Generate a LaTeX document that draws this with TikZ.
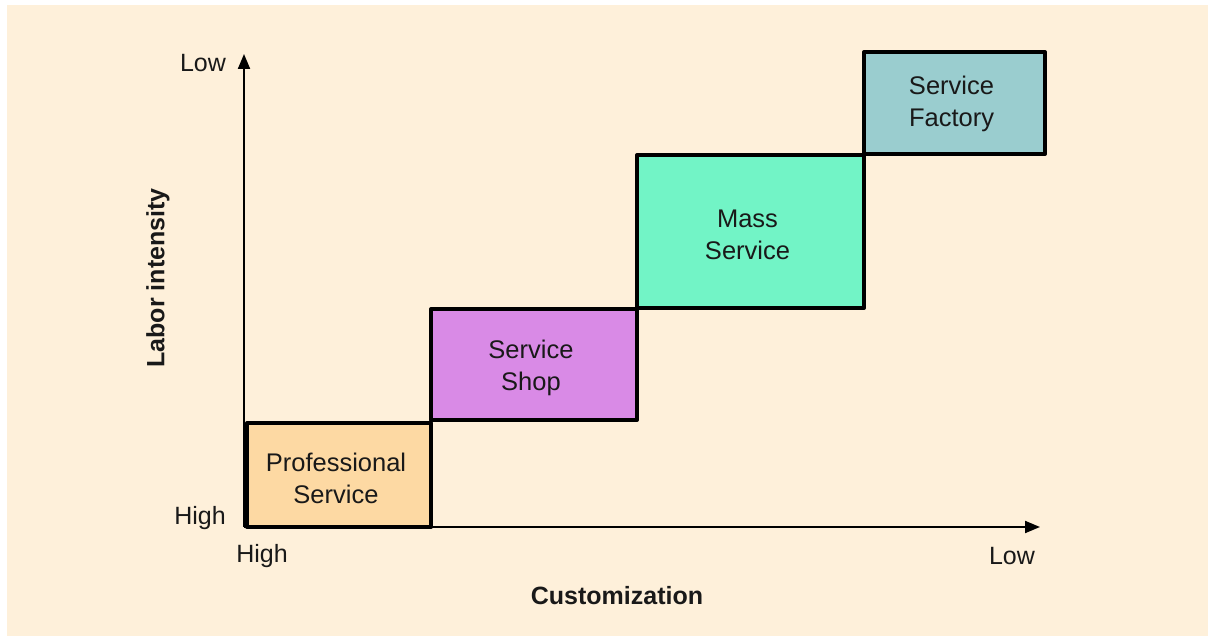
\documentclass[tikz,border=0pt]{standalone}
\usepackage{fontspec}
\setmainfont{Liberation Sans}
\usetikzlibrary{arrows.meta}
\definecolor{panel}{HTML}{FEF0DA}
\definecolor{profc}{HTML}{FDD9A3}
\definecolor{shopc}{HTML}{D98AE6}
\definecolor{massc}{HTML}{72F4C6}
\definecolor{factc}{HTML}{9ACDCF}
\tikzset{
  stage/.style={draw=black, line width=4pt, line join=round, anchor=north west,
    inner sep=0pt},
  stagetext/.style={align=center, font=\fontsize{25.5}{32}\selectfont, text=black!90,
    inner sep=0pt, xshift=-3pt, yshift=-3pt},
  axis/.style={line width=2pt, -{Triangle[length=15pt,width=12pt]}},
  tick/.style={font=\fontsize{25}{30}\selectfont, text=black!90, inner sep=0pt},
  title/.style={font=\fontsize{25}{30}\selectfont\bfseries, text=black!90, inner sep=0pt}
}
\begin{document}
\begin{tikzpicture}[x=1pt,y=-1pt]
  % page and cream panel
  \useasboundingbox (0,0) rectangle (1208,636);
  \fill[white] (0,0) rectangle (1208,636);
  \fill[panel] (7,5) rectangle (1208,636);

  % axes
  \coordinate (O) at (244,527);
  \coordinate (ytip) at (244,54);
  \coordinate (xtip) at (1040,527);
  \draw[axis] (O) -- (ytip);
  \draw[axis] (O) -- (xtip);

  % the four service stages
  \node[stage, fill=profc, minimum width=184pt, minimum height=104pt] (prof) at (245,421) {};
  \node[stage, fill=shopc, minimum width=206pt, minimum height=111pt] (shop) at (429,307) {};
  \node[stage, fill=massc, minimum width=227pt, minimum height=153pt] (mass) at (635,153) {};
  \node[stage, fill=factc, minimum width=181pt, minimum height=102pt] (fact) at (862,50) {};

  \node[stagetext] (proft) at (prof.center) {Professional\\Service};
  \node[stagetext] (shopt) at (shop.center) {Service\\Shop};
  \node[stagetext] (masst) at (mass.center) {Mass\\Service};
  \node[stagetext, yshift=2pt] (factt) at (fact.center) {Service\\Factory};

  % axis end labels
  \node[tick] (ylow) at (203,63) {Low};
  \node[tick] (yhigh) at (200,518) {High};
  \node[tick] (xhigh) at (262,556) {High};
  \node[tick] (xlow) at (1012,556) {Low};

  % axis titles
  \node[title] (xtitle) at (617,596) {Customization};
  \node[title, rotate=90] (ytitle) at (158,278) {Labor intensity};
\end{tikzpicture}
\end{document}
